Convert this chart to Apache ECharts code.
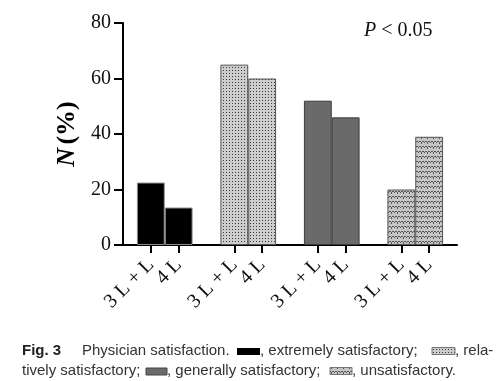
<!DOCTYPE html>
<html><head><meta charset="utf-8">
<script src="https://cdn.jsdelivr.net/npm/echarts@6/dist/echarts.min.js"></script>
<style>html,body{margin:0;padding:0;background:#fff}#c{width:502px;height:381px}</style>
</head><body><div id="c"></div>
<script>
// ---- data ----
var barLabels = ['3 L + L', '4 L'];
var groups = ['extremely satisfactory', 'relatively satisfactory', 'generally satisfactory', 'unsatisfactory'];
var extremely = [22.5, 13.5];
var relatively = [65, 60];
var generally = [52, 46];
var unsatisfactory = [20, 39];
var yTicks = [0, 20, 40, 60, 80];

// ---- patterns ----
function makePattern(w, h, bg, fg, pts) {
  var c = document.createElement('canvas'); c.width = w; c.height = h;
  var g = c.getContext('2d'); g.fillStyle = bg; g.fillRect(0, 0, w, h);
  g.fillStyle = fg; pts.forEach(function (p) { g.fillRect(p[0], p[1], 1, 1); });
  return { image: c, repeat: 'repeat' };
}
var dotPat = makePattern(3, 3, '#cdcdcd', '#3a3a3a', [[1, 1]]);
var wavePat = makePattern(6, 5, '#c6c6c6', '#555', [[0, 1], [2, 1], [1, 2], [3, 1], [5, 1], [4, 2], [1, 3]]);
var styles = [
  { color: '#000', borderColor: '#8a8a8a', borderWidth: 1 },
  { color: dotPat, borderColor: '#555', borderWidth: 1 },
  { color: '#6a6a6a', borderColor: '#3c3c3c', borderWidth: 1 },
  { color: wavePat, borderColor: '#555', borderWidth: 1 }
];

var allVals = [extremely, relatively, generally, unsatisfactory];
var data = [], tickPos = [], posByLabel = [[], []];
allVals.forEach(function (arr, g) {
  arr.forEach(function (v, b) {
    var x = g * 3 + 1 + b;
    data.push({ value: [x, v], itemStyle: styles[g] });
    tickPos.push(x); posByLabel[b].push(x);
  });
});

var gridLeft = 123, gridRight = 45;
var barW = (502 - gridLeft - gridRight) / 12;
var serif = 'Liberation Serif';
var sans = 'Liberation Sans';

function labelAxis(b) {
  return {
    type: 'value', min: 0, max: 12, position: 'bottom',
    splitLine: { show: false },
    axisLine: { show: b === 0, lineStyle: { color: '#000', width: 2 } },
    axisTick: { show: b === 0, customValues: tickPos, length: 8, lineStyle: { color: '#000', width: 2 } },
    axisLabel: {
      customValues: posByLabel[b], rotate: 45, margin: 17,
      formatter: function () { return barLabels[b]; },
      fontFamily: serif, fontSize: 20, color: '#111'
    }
  };
}

var chart = echarts.init(document.getElementById('c'), null, { renderer: 'canvas' });
chart.setOption({
  animation: false,
  grid: { left: gridLeft, right: gridRight, top: 23, bottom: 136 },
  xAxis: [labelAxis(0), labelAxis(1)],
  yAxis: {
    type: 'value', min: 0, max: 80, interval: 20,
    splitLine: { show: false },
    axisLine: { show: true, lineStyle: { color: '#000', width: 2 } },
    axisTick: { show: true, length: 9, lineStyle: { color: '#000', width: 2 } },
    axisLabel: { margin: 12, fontFamily: serif, fontSize: 20, color: '#111' },
    name: '{i|N} {b|(%)}', nameLocation: 'middle', nameRotate: 90, nameGap: 37,
    nameTextStyle: {
      rich: {
        i: { fontFamily: serif, fontSize: 26, fontWeight: 'bold', fontStyle: 'italic', color: '#000' },
        b: { fontFamily: serif, fontSize: 26, fontWeight: 'bold', color: '#000' }
      }
    }
  },
  series: [{
    type: 'bar', xAxisIndex: 0, data: data, barWidth: barW, barGap: 0
  }],
  graphic: [
    { type: 'text', left: 364, top: 21, style: {
      text: '{i|P} < 0.05', font: '20px ' + serif, fill: '#111',
      rich: { i: { fontStyle: 'italic', fontFamily: serif, fontSize: 20, fill: '#111' } } } },
    // caption line 1
    { type: 'text', x: 22, y: 351, style: { text: 'Fig. 3', font: 'bold 15px ' + sans, fill: '#222', verticalAlign: 'middle' } },
    { type: 'text', x: 82, y: 351, style: { text: 'Physician satisfaction.', font: '15px ' + sans, fill: '#333', verticalAlign: 'middle' } },
    { type: 'rect', shape: { x: 237, y: 348, width: 23, height: 7 }, style: { fill: '#000' } },
    { type: 'text', x: 260, y: 351, style: { text: ', extremely satisfactory;', font: '15px ' + sans, fill: '#333', verticalAlign: 'middle' } },
    { type: 'rect', shape: { x: 432, y: 347.5, width: 23, height: 7 }, style: { fill: dotPat, stroke: '#777', lineWidth: 1 } },
    { type: 'text', x: 455, y: 351, style: { text: ', rela-', font: '15px ' + sans, fill: '#333', verticalAlign: 'middle' } },
    // caption line 2
    { type: 'text', x: 22, y: 371, style: { text: 'tively satisfactory;', font: '15px ' + sans, fill: '#333', verticalAlign: 'middle' } },
    { type: 'rect', shape: { x: 146, y: 368, width: 21, height: 7 }, style: { fill: '#6a6a6a', stroke: '#444', lineWidth: 1 } },
    { type: 'text', x: 167, y: 371, style: { text: ', generally satisfactory;', font: '15px ' + sans, fill: '#333', verticalAlign: 'middle' } },
    { type: 'rect', shape: { x: 330, y: 367.5, width: 22, height: 7 }, style: { fill: wavePat, stroke: '#777', lineWidth: 1 } },
    { type: 'text', x: 352, y: 371, style: { text: ', unsatisfactory.', font: '15px ' + sans, fill: '#333', verticalAlign: 'middle' } }
  ]
});
</script></body></html>
